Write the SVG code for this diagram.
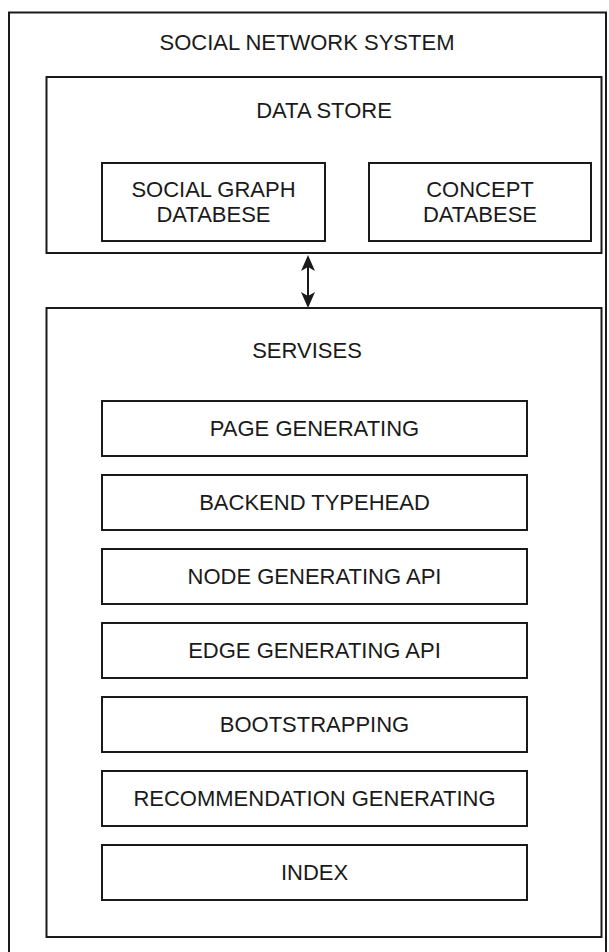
<svg xmlns="http://www.w3.org/2000/svg" width="609" height="952" viewBox="0 0 609 952">
<style>
rect{fill:none;stroke:#1a1a1a;stroke-width:2}
text{font-family:"Liberation Sans",Arial,sans-serif;font-size:22px;fill:#1a1a1a;text-anchor:middle}
</style>
<rect width="609" height="952" fill="#fff" style="fill:#fff;stroke:none"/>
<g id="system">
<rect x="9" y="12.5" width="597" height="960"/>
<text x="307" y="50">SOCIAL NETWORK SYSTEM</text>
</g>
<g id="datastore">
<rect x="46.5" y="77" width="555" height="176"/>
<text x="324" y="118">DATA STORE</text>
</g>
<g id="socialgraph">
<rect x="102" y="163" width="223" height="78"/>
<text x="213.5" y="197">SOCIAL GRAPH</text>
<text x="213.5" y="222">DATABESE</text>
</g>
<g id="concept">
<rect x="369" y="163" width="222" height="78"/>
<text x="480" y="197">CONCEPT</text>
<text x="480" y="222">DATABESE</text>
</g>
<g id="services">
<rect x="46.5" y="308" width="555" height="629"/>
<text x="307" y="358">SERVISES</text>
</g>
<g id="page"><rect x="102" y="401" width="425" height="55"/><text x="314.5" y="436">PAGE GENERATING</text></g>
<g id="backend"><rect x="102" y="475" width="425" height="55"/><text x="314.5" y="510">BACKEND TYPEHEAD</text></g>
<g id="nodeapi"><rect x="102" y="549" width="425" height="55"/><text x="314.5" y="584">NODE GENERATING API</text></g>
<g id="edgeapi"><rect x="102" y="623" width="425" height="55"/><text x="314.5" y="658">EDGE GENERATING API</text></g>
<g id="boot"><rect x="102" y="697" width="425" height="55"/><text x="314.5" y="732">BOOTSTRAPPING</text></g>
<g id="rec"><rect x="102" y="771" width="425" height="55"/><text x="314.5" y="806">RECOMMENDATION GENERATING</text></g>
<g id="index"><rect x="102" y="845" width="425" height="55"/><text x="314.5" y="880">INDEX</text></g>
<g id="connectors">
<line x1="308" y1="266" x2="308" y2="297" stroke="#1a1a1a" stroke-width="2"/>
<path d="M308,255 L315,271 L308,267 L301,271 Z" fill="#1a1a1a"/>
<path d="M308,308 L315,292 L308,296 L301,292 Z" fill="#1a1a1a"/>
</g>
</svg>
